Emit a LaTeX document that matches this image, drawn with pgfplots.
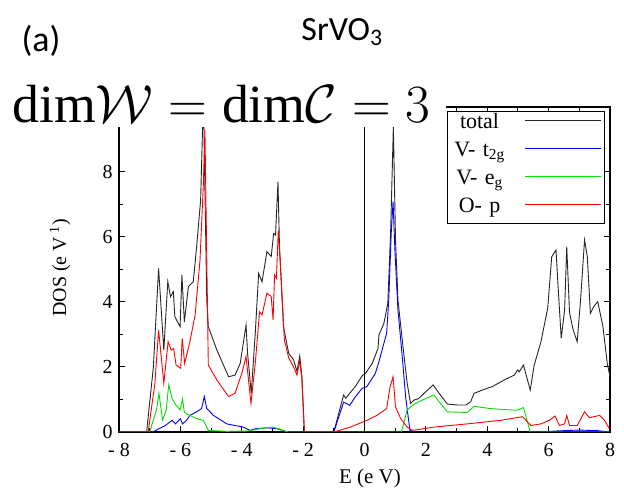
\RequirePackage{fix-cm}
\documentclass[border=0pt]{standalone}
\usepackage{fontspec}
\setmainfont{Liberation Serif}
\newfontfamily\calibri{Carlito}
\usepackage{pgfplots}
\pgfplotsset{compat=1.18}
\definecolor{cblue}{RGB}{0,0,255}
\definecolor{cgreen}{RGB}{0,225,0}
\definecolor{cred}{RGB}{255,0,0}
\begin{document}
\begin{tikzpicture}[x=1bp,y=1bp]
\path[use as bounding box] (0,0) rectangle (624,491);
\begin{axis}[
  at={(119bp,59bp)}, anchor=south west,
  scale only axis, width=491bp, height=325bp,
  xmin=-8, xmax=8, ymin=0, ymax=10,
  xtick={-8,-6,...,8}, xticklabels={- 8,- 6,- 4,- 2,0,2,4,6,8},
  ytick={0,2,4,6,8}, yticklabels={0,2,4,6,8},
  minor x tick num=1, minor y tick num=1,
  tick align=inside,
  major tick length=6bp, minor tick length=4bp,
  tick style={black, line width=1bp},
  axis line style={line width=1.3bp},
  ticklabel style={font=\fontsize{20}{22}\selectfont},
  xticklabel style={yshift=-8bp},
  yticklabel style={xshift=-3bp},
  legend plot pos=right,
  legend style={at={(rel axis cs:0.990,0.988)}, anchor=north east, draw=black, line width=1.2bp,
    inner xsep=3bp, inner ysep=0bp, row sep=0pt, column sep=16bp,
    font=\fontsize{22}{24}\selectfont,
    nodes={inner sep=0pt, text height=17bp, text depth=11bp, text width=58bp, align=center}},
  legend image code/.code={\draw[#1, line width=1bp] (0bp,5bp) -- (57bp,5bp); \path (0bp,5bp) -- (76bp,5bp);},
]
\addplot[black!85, line width=0.9bp] coordinates {
(-8,0) (-7.1,0) (-6.88,2.0) (-6.71,5.03) (-6.54,2.52) (-6.41,4.63) (-6.32,4.16) (-6.23,4.32) (-6.18,3.55) (-6.01,3.24) (-5.95,4.83) (-5.87,3.39) (-5.74,4.47) (-5.58,4.62) (-5.47,5.70) (-5.34,7.14) (-5.25,10.3) (-5.14,4.06) (-5.09,3.24) (-4.81,2.52) (-4.43,1.70) (-4.22,1.75) (-4.05,2.11) (-3.86,3.29) (-3.81,2.42) (-3.69,1.19) (-3.56,3.04) (-3.45,4.88) (-3.34,4.62) (-3.18,5.55) (-3.04,5.40) (-2.96,6.11) (-2.90,6.06) (-2.82,7.70) (-2.77,5.70) (-2.64,3.24) (-2.47,2.42) (-2.31,2.22) (-2.20,1.86) (-2.11,2.34) (-2.04,1.70) (-1.96,0) (-1.0,0) (-0.81,0.68) (-0.68,1.14) (-0.61,1.04) (-0.48,1.19) (-0.30,1.4) (-0.13,1.65) (-0.06,1.75) (0.03,1.80) (0.25,2.11) (0.44,2.57) (0.47,2.98) (0.63,3.34) (0.76,3.96) (0.85,6.11) (0.94,9.4) (1.01,5.91) (1.09,4.06) (1.23,2.83) (1.39,1.5) (1.50,0.88) (1.61,0.98) (1.77,1.03) (1.94,1.19) (2.24,1.45) (2.43,1.19) (2.70,0.86) (3.03,0.83) (3.30,0.83) (3.46,0.93) (3.57,1.19) (3.84,1.29) (4.17,1.40) (4.55,1.60) (4.88,1.75) (4.99,1.91) (5.04,1.85) (5.18,2.06) (5.40,1.29) (5.53,2.06) (5.75,2.78) (5.97,3.81) (6.10,5.39) (6.24,5.6) (6.30,4.6) (6.41,2.88) (6.52,3.75) (6.59,5.70) (6.68,3.68) (6.79,3.17) (6.93,2.78) (7.04,4.06) (7.17,5.91) (7.26,5.4) (7.36,3.65) (7.47,3.86) (7.60,4.01) (7.77,3.24) (7.91,2.11) (8.0,1.7)
};
\addlegendentry{total}
\addplot[cblue, line width=0.9bp] coordinates {
(-8,0) (-6.9,0) (-6.7,0.1) (-6.49,0.2) (-6.27,0.36) (-6.16,0.25) (-6.0,0.41) (-5.93,0.25) (-5.80,0.36) (-5.69,0.51) (-5.47,0.62) (-5.31,0.72) (-5.22,1.09) (-5.14,0.72) (-4.92,0.51) (-4.49,0.25) (-3.95,0.15) (-3.73,0.05) (-3.56,0.1) (-3.18,0.13) (-2.85,0.1) (-2.5,0) (-1.0,0) (-0.84,0.46) (-0.68,0.92) (-0.48,0.82) (-0.30,1.08) (-0.08,1.34) (0.08,1.4) (0.35,1.8) (0.47,2.16) (0.72,3.04) (0.79,4.06) (0.87,6.11) (0.93,7.09) (0.99,5.6) (1.09,3.75) (1.23,2.32) (1.34,1.08) (1.48,0.05) (1.6,0) (5.8,0) (6.2,0.03) (7.0,0.06) (7.6,0.04) (8,0)
};
\addlegendentry{V- t\textsubscript{2g}}
\addplot[cgreen, line width=0.9bp] coordinates {
(-8,0) (-7.0,0) (-6.78,0.68) (-6.70,1.19) (-6.58,0.37) (-6.46,0.68) (-6.38,1.45) (-6.27,1.03) (-6.16,0.85) (-6.01,0.68) (-5.93,1.02) (-5.87,0.6) (-5.69,0.51) (-5.47,0.41) (-5.25,0.36) (-5.09,0.05) (-4.5,0.02) (-3.8,0.03) (-3.3,0.12) (-3.0,0.15) (-2.8,0.1) (-2.5,0) (1.2,0) (1.39,0.67) (1.56,0.82) (1.77,0.93) (2.26,1.14) (2.43,0.93) (2.70,0.62) (3.35,0.6) (3.57,0.79) (4.11,0.72) (4.55,0.69) (4.99,0.67) (5.18,0.75) (5.40,0) (8,0)
};
\addlegendentry{V- e\textsubscript{g}}
\addplot[cred, line width=0.9bp] coordinates {
(-8,0) (-7.05,0) (-6.83,1.5) (-6.71,3.14) (-6.54,1.5) (-6.40,2.78) (-6.30,2.52) (-6.22,2.57) (-6.14,2.06) (-5.99,1.96) (-5.94,2.88) (-5.86,2.11) (-5.69,2.78) (-5.52,3.6) (-5.36,5.29) (-5.25,7.65) (-5.20,9.3) (-5.09,2.06) (-4.81,1.6) (-4.43,1.09) (-4.22,1.19) (-4.0,1.8) (-3.86,2.32) (-3.70,0.88) (-3.56,2.11) (-3.42,3.70) (-3.34,3.6) (-3.18,4.27) (-3.04,4.17) (-2.98,3.45) (-2.93,4.83) (-2.87,4.73) (-2.81,6.2) (-2.75,5.3) (-2.61,2.83) (-2.47,2.28) (-2.31,2.0) (-2.20,1.75) (-2.11,2.2) (-2.04,1.6) (-1.96,0) (-1.0,0) (-0.46,0.15) (0.08,0.36) (0.40,0.51) (0.72,0.72) (0.83,1.38) (0.93,1.70) (1.01,0.77) (1.18,0.41) (1.39,0.15) (1.56,0.05) (2.26,0.15) (3.35,0.25) (4.44,0.36) (5.15,0.47) (5.42,0.2) (5.75,0.25) (6.02,0.36) (6.21,0.49) (6.35,0.2) (6.52,0.25) (6.59,0.51) (6.68,0.2) (6.93,0.2) (7.17,0.62) (7.33,0.44) (7.66,0.51) (7.82,0.36) (7.98,0.1)
};
\addlegendentry{O- p}
\addplot[black, line width=0.9bp, forget plot] coordinates {(0,0) (0,10)};
\end{axis}
\fill[white] (0,364) rectangle (446,405);
\node[anchor=base west, inner sep=0pt, font=\fontsize{54}{56}\selectfont] at (12,368) {$\mathrm{dim}\mathcal{W} = \mathrm{dim}\mathcal{C} = 3$};
\node[font=\calibri\fontsize{36}{38}\selectfont] at (41,450) {(a)};
\node[font=\calibri\fontsize{34}{36}\selectfont] at (342,459) {SrVO\textsubscript{3}};
\node[rotate=90, font=\fontsize{20}{22}\selectfont] at (60,223) {DOS (e V\textsuperscript{\hspace{0.25em}1})};
\node[font=\fontsize{21}{23}\selectfont] at (370,13) {E (e V)};
\end{tikzpicture}
\end{document}
